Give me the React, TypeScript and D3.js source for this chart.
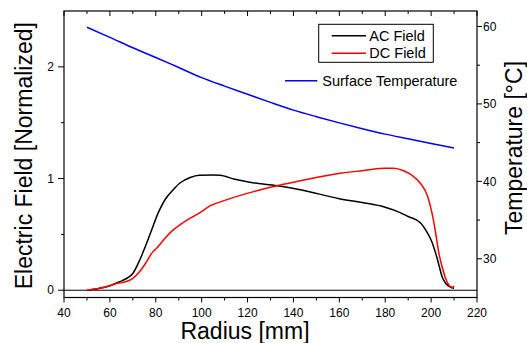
import React from 'react';
import * as d3 from 'd3';

// ---- data ----
const radiusAC = [50, 55, 60, 62.6, 65.4, 68, 70, 73, 76, 78.2, 81, 84, 87.6, 90.5, 95, 99, 105, 108, 114, 121, 133, 143, 160, 170, 180, 186.5, 190, 195.3, 198.5, 200, 202, 203.4, 204.8, 206.3, 208.5, 210];
const acField = [0, 0.015, 0.04, 0.063, 0.086, 0.115, 0.15, 0.27, 0.42, 0.54, 0.69, 0.81, 0.9, 0.96, 1.01, 1.03, 1.032, 1.03, 0.996, 0.967, 0.936, 0.9, 0.82, 0.785, 0.743, 0.695, 0.66, 0.605, 0.51, 0.45, 0.33, 0.226, 0.12, 0.063, 0.027, 0.018];

const radiusDC = [50, 55, 60, 62.6, 65.4, 70, 73, 76, 78.2, 81, 84, 87.6, 90.5, 95, 99.3, 103.6, 109.4, 121, 132.7, 143, 160.3, 170, 180, 183.6, 188, 191.6, 195.3, 198.5, 200.4, 202, 203.4, 204.8, 206.3, 207.7, 209.2, 210];
const dcField = [0, 0.015, 0.04, 0.06, 0.068, 0.107, 0.167, 0.256, 0.33, 0.39, 0.465, 0.54, 0.585, 0.645, 0.695, 0.755, 0.8, 0.874, 0.936, 0.98, 1.047, 1.07, 1.092, 1.092, 1.07, 1.03, 0.958, 0.84, 0.69, 0.51, 0.33, 0.21, 0.107, 0.047, 0.027, 0.038];

const radiusT = [50, 60, 70, 80, 90, 100, 110, 120, 130, 140, 150, 160, 170, 180, 190, 200, 210];
const temperature = [59.9, 58.6, 57.25, 56.0, 54.7, 53.4, 52.3, 51.25, 50.2, 49.2, 48.35, 47.55, 46.8, 46.1, 45.5, 44.9, 44.3];

const xMajorTicks = [40, 60, 80, 100, 120, 140, 160, 180, 200, 220];
const xMinorTicks = [50, 70, 90, 110, 130, 150, 170, 190, 210];
const yLeftMajor = [0, 1, 2];
const yLeftMinor = [0.5, 1.5];
const yRightMajor = [30, 40, 50, 60];
const yRightMinor = [35, 45, 55];

const seriesNames = ['AC Field', 'DC Field', 'Surface Temperature'];
const seriesColors = ['#000000', '#ff0000', '#0000ff'];

const xTitle = 'Radius [mm]';
const yLeftTitle = 'Electric Field [Normalized]';
const yRightTitle = 'Temperature [°C]';

const W = 527;
const H = 343;
const L = 64, R = 477, T = 11, B = 297.5;
const FONT = '"Liberation Sans", Arial, sans-serif';

export default function App() {
  const x = d3.scaleLinear().domain([40, 220]).range([L, R]);
  const yL = d3.scaleLinear().domain([-0.065, 2.5]).range([B, T]);
  const yR = d3.scaleLinear().domain([25, 62]).range([B, T]);

  const fieldLine = d3
    .line<[number, number]>()
    .x((d) => x(d[0]))
    .y((d) => yL(d[1]))
    .curve(d3.curveMonotoneX);
  const tempLine = d3
    .line<[number, number]>()
    .x((d) => x(d[0]))
    .y((d) => yR(d[1]))
    .curve(d3.curveMonotoneX);

  const acPts = radiusAC.map((r, i) => [r, acField[i]] as [number, number]);
  const dcPts = radiusDC.map((r, i) => [r, dcField[i]] as [number, number]);
  const tPts = radiusT.map((r, i) => [r, temperature[i]] as [number, number]);

  const tickStroke = { stroke: '#000', strokeWidth: 1 };

  return (
    <svg
      width={W}
      height={H}
      style={{ position: 'absolute', left: 0, top: 0, background: '#fff' }}
      fontFamily={FONT}
    >
      <rect x={0} y={0} width={W} height={H} fill="#fff" />

      {/* zero line */}
      <line x1={L} x2={R} y1={yL(0)} y2={yL(0)} {...tickStroke} />

      {/* curves */}
      <path d={tempLine(tPts) || ''} fill="none" stroke={seriesColors[2]} strokeWidth={1.5} />
      <path d={fieldLine(acPts) || ''} fill="none" stroke={seriesColors[0]} strokeWidth={1.5} />
      <path d={fieldLine(dcPts) || ''} fill="none" stroke={seriesColors[1]} strokeWidth={1.5} />

      {/* frame */}
      <rect x={L} y={T} width={R - L} height={B - T} fill="none" stroke="#000" strokeWidth={1.2} />

      {/* bottom axis */}
      {xMajorTicks.map((t) => (
        <g key={'xb' + t}>
          <line x1={x(t)} x2={x(t)} y1={B} y2={B + 5} {...tickStroke} />
          <line x1={x(t)} x2={x(t)} y1={T} y2={T + 5} {...tickStroke} />
          <text x={x(t)} y={316.7} fontSize={12} textAnchor="middle" fill="#000">
            {t}
          </text>
        </g>
      ))}
      {xMinorTicks.map((t) => (
        <g key={'xm' + t}>
          <line x1={x(t)} x2={x(t)} y1={B} y2={B + 3} {...tickStroke} />
          <line x1={x(t)} x2={x(t)} y1={T} y2={T + 3} {...tickStroke} />
        </g>
      ))}

      {/* left axis */}
      {yLeftMajor.map((t) => (
        <g key={'yl' + t}>
          <line x1={L - 6} x2={L} y1={yL(t)} y2={yL(t)} {...tickStroke} />
          <text x={54} y={yL(t) + 4.2} fontSize={12} textAnchor="end" fill="#000">
            {t}
          </text>
        </g>
      ))}
      {yLeftMinor.map((t) => (
        <line key={'ylm' + t} x1={L - 3} x2={L} y1={yL(t)} y2={yL(t)} {...tickStroke} />
      ))}

      {/* right axis */}
      {yRightMajor.map((t) => (
        <g key={'yr' + t}>
          <line x1={R} x2={R + 5} y1={yR(t)} y2={yR(t)} {...tickStroke} />
          <text x={483} y={yR(t) + 4.2} fontSize={12} textAnchor="start" fill="#000">
            {t}
          </text>
        </g>
      ))}
      {yRightMinor.map((t) => (
        <line key={'yrm' + t} x1={R} x2={R + 3} y1={yR(t)} y2={yR(t)} {...tickStroke} />
      ))}

      {/* titles */}
      <text x={245} y={339.3} fontSize={23} textAnchor="middle" fill="#000">
        {xTitle}
      </text>
      <text
        transform={`translate(31.5, 155.7) rotate(-90)`}
        fontSize={23}
        textAnchor="middle"
        fill="#000"
      >
        {yLeftTitle}
      </text>
      <text
        transform={`translate(521.7, 148) rotate(-90)`}
        fontSize={23}
        textAnchor="middle"
        fill="#000"
      >
        {yRightTitle}
      </text>

      {/* legend */}
      <rect x={318.7} y={24.3} width={114.6} height={38} fill="#fff" stroke="#000" strokeWidth={1} />
      <line x1={331.7} x2={366} y1={35.7} y2={35.7} stroke={seriesColors[0]} strokeWidth={1.5} />
      <text x={369.3} y={40.8} fontSize={14.5} fill="#000">
        {seriesNames[0]}
      </text>
      <line x1={331.7} x2={366} y1={53.3} y2={53.3} stroke={seriesColors[1]} strokeWidth={1.5} />
      <text x={369.3} y={58.4} fontSize={14.5} fill="#000">
        {seriesNames[1]}
      </text>
      <line x1={285} x2={317.3} y1={80.7} y2={80.7} stroke={seriesColors[2]} strokeWidth={1.5} />
      <text x={322.3} y={85.8} fontSize={14.5} fill="#000">
        {seriesNames[2]}
      </text>
    </svg>
  );
}
